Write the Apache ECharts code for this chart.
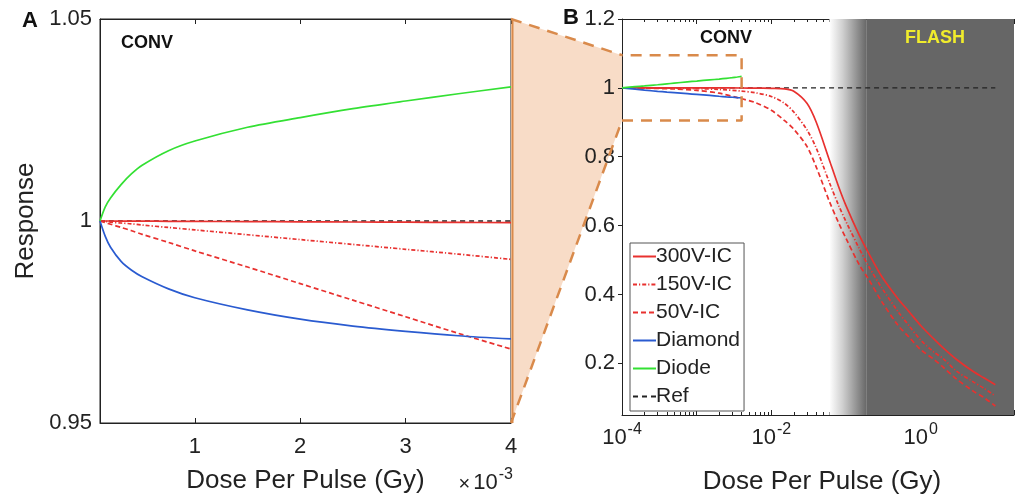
<!DOCTYPE html>
<html><head><meta charset="utf-8">
<script src="https://cdn.jsdelivr.net/npm/echarts@6/dist/echarts.min.js"></script>
<style>html,body{margin:0;padding:0;background:#fff}#c{width:1017px;height:500px}</style>
</head><body><div id="c"></div>
<script>
// ---------- Panel A (linear dose axis, CONV range) ----------
const doseA     = [0.0001, 0.00015, 0.0002, 0.0003, 0.0004, 0.0005, 0.00075, 0.001, 0.0015, 0.002, 0.0025, 0.003, 0.0035, 0.004];
const diodeA    = [1.000, 1.0035, 1.0057, 1.009, 1.0117, 1.0138, 1.0174, 1.0198, 1.0232, 1.0256, 1.0278, 1.0297, 1.0315, 1.0332];
const diamondA  = [1.000, 0.9962, 0.9935, 0.9900, 0.9878, 0.9862, 0.9832, 0.9810, 0.9780, 0.9757, 0.9740, 0.9727, 0.9716, 0.9708];
const ic300A    = [1.000, 1.000, 1.000, 0.99998, 0.99997, 0.99996, 0.99993, 0.9999, 0.99985, 0.9998, 0.99975, 0.9997, 0.99965, 0.9996];
const ic150A    = [1.000, 0.9999, 0.9997, 0.9995, 0.9993, 0.9990, 0.9984, 0.9978, 0.9966, 0.9954, 0.9942, 0.9930, 0.9918, 0.9905];
const ic50A     = [1.000, 0.9996, 0.9992, 0.9984, 0.9976, 0.9967, 0.9947, 0.9926, 0.9886, 0.9845, 0.9804, 0.9763, 0.9722, 0.9683];
const refDoseA  = [0.0001, 0.004];
const refA      = [1, 1];
const xTicksA   = [0.001, 0.002, 0.003, 0.004];
const yTicksA   = [0.95, 1, 1.05];

// ---------- Panel B (log dose axis, CONV -> FLASH) ----------
const doseB   = [0.0001, 0.0002, 0.0005, 0.001, 0.002, 0.004, 0.006, 0.01, 0.015, 0.02, 0.03, 0.04, 0.06, 0.08, 0.1, 0.15, 0.2, 0.3, 0.5, 0.7, 1, 1.5, 2, 3, 5, 7, 10];
const ic300B  = [1, 1, 1, 0.9999, 0.9998, 0.9996, 0.9993, 0.9985, 0.997, 0.99, 0.955, 0.90, 0.79, 0.712, 0.658, 0.573, 0.521, 0.453, 0.387, 0.350, 0.310, 0.271, 0.245, 0.212, 0.177, 0.158, 0.138];
const ic150B  = [1, 0.9997, 0.999, 0.9978, 0.9954, 0.9905, 0.986, 0.975, 0.955, 0.93, 0.878, 0.825, 0.725, 0.658, 0.612, 0.534, 0.483, 0.42, 0.35, 0.309, 0.268, 0.233, 0.214, 0.178, 0.147, 0.128, 0.105];
const ic50B   = [1, 0.9992, 0.9967, 0.9926, 0.9845, 0.9683, 0.958, 0.935, 0.905, 0.88, 0.83, 0.77, 0.67, 0.607, 0.563, 0.487, 0.445, 0.38, 0.31, 0.276, 0.24, 0.212, 0.189, 0.155, 0.12, 0.101, 0.076];
const refDoseB = [0.0001, 10];
const refB     = [1, 1];
const yTicksB  = [0.2, 0.4, 0.6, 0.8, 1, 1.2];
const zoomBoxDose = [0.0001, 0.004];
const zoomBoxResp = [0.905, 1.095];
const transitionDose = [0.06, 0.19];     // white -> grey fade
const visibleEndDose = 17.8;             // axis cut by the picture edge
const legendNames = ['300V-IC', '150V-IC', '50V-IC', 'Diamond', 'Diode', 'Ref'];

const FONT = "'Liberation Sans', Arial, Helvetica, sans-serif";
const RED = '#e8312f', BLUE = '#2a5bd0', GREEN = '#33e033';
const ORANGE = '#d98a4b', PEACH = '#f8dcc7';

const zip = (xs, ys) => xs.map((x, i) => [x, ys[i]]);

const chart = echarts.init(document.getElementById('c'), null, {renderer: 'canvas'});

function lineSeries(name, xs, ys, color, type, xi, yi, width) {
  return {
    name, type: 'line', data: zip(xs, ys), xAxisIndex: xi, yAxisIndex: yi,
    symbol: 'none', showSymbol: false, smooth: 0.3, animation: false,
    lineStyle: {color, width: width || 1.7, type: type || 'solid'},
    itemStyle: {color}, z: 3
  };
}
const DASH = [5, 3], DASHDOT = [4, 2, 1.2, 2], REFDASH = [5, 4];

const supRich = {
  b: {fontSize: 22, fontFamily: FONT, color: '#222', verticalAlign: 'bottom', lineHeight: 24},
  s: {fontSize: 16, fontFamily: FONT, color: '#222', verticalAlign: 'bottom', lineHeight: 16, padding: [0, 0, 11, 1]}
};

const option = {
  animation: false,
  backgroundColor: '#fff',
  textStyle: {fontFamily: FONT},
  grid: [
    {left: 100, top: 19, width: 411, height: 404, show: true, borderColor: '#222', borderWidth: 1, backgroundColor: 'transparent'},
    {left: 622, top: 19, width: 395, height: 401, show: false}
  ],
  xAxis: [
    {gridIndex: 0, type: 'value', min: 0.0001, max: 0.004,
     name: 'Dose Per Pulse (Gy)', nameLocation: 'middle', nameGap: 45,
     nameTextStyle: {fontSize: 26, color: '#222', fontFamily: FONT},
     axisLine: {lineStyle: {color: '#222', width: 1}},
     axisTick: {inside: true, length: 5, customValues: xTicksA, lineStyle: {color: '#222'}},
     axisLabel: {customValues: xTicksA, fontSize: 22, color: '#222', margin: 13, fontFamily: FONT,
                 formatter: v => String(Math.round(v * 1000))},
     splitLine: {show: false}},
    {gridIndex: 0, type: 'value', position: 'top', min: 0.0001, max: 0.004,
     axisLine: {lineStyle: {color: '#222'}},
     axisTick: {inside: true, length: 5, customValues: xTicksA, lineStyle: {color: '#222'}},
     axisLabel: {show: false}, splitLine: {show: false}},
    {gridIndex: 1, type: 'log', logBase: 10, min: 0.0001, max: visibleEndDose,
     name: 'Dose Per Pulse (Gy)', nameLocation: 'middle', nameGap: 54,
     nameTextStyle: {fontSize: 26, color: '#222', fontFamily: FONT, padding: [0, 0, 0, 8]},
     axisLine: {lineStyle: {color: '#222', width: 1}},
     axisTick: {inside: true, length: 5, lineStyle: {color: '#222'}},
     minorTick: {show: true, splitNumber: 9, length: 3, lineStyle: {color: '#222'}},
     axisLabel: {margin: 10, rich: supRich, formatter: v => {
       const e = Math.log10(v), r = Math.round(e);
       if (Math.abs(e - r) > 1e-6 || r % 2 !== 0) return '';
       return '{b|10}{s|' + r + '}';
     }},
     splitLine: {show: false}},
    {gridIndex: 1, type: 'log', logBase: 10, position: 'top', min: 0.0001, max: visibleEndDose,
     axisLine: {lineStyle: {color: '#222'}},
     axisTick: {inside: true, length: 5, lineStyle: {color: '#222'}},
     minorTick: {show: true, splitNumber: 9, length: 3, lineStyle: {color: '#222'}},
     axisLabel: {show: false}, splitLine: {show: false}}
  ],
  yAxis: [
    {gridIndex: 0, type: 'value', min: 0.95, max: 1.05, interval: 0.05,
     name: 'Response', nameLocation: 'middle', nameGap: 61,
     nameTextStyle: {fontSize: 26, color: '#222', fontFamily: FONT},
     axisLine: {show: true, lineStyle: {color: '#222'}},
     axisTick: {show: true, inside: true, length: 5, lineStyle: {color: '#222'}},
     axisLabel: {fontSize: 22, color: '#222', margin: 8, fontFamily: FONT,
                 formatter: v => String(parseFloat(v.toFixed(2)))},
     splitLine: {show: false}},
    {gridIndex: 1, type: 'value', min: 0.05, max: 1.2,
     axisLine: {show: true, lineStyle: {color: '#222'}},
     axisTick: {show: true, inside: false, length: 4, customValues: yTicksB, lineStyle: {color: '#222'}},
     axisLabel: {customValues: yTicksB, fontSize: 22, color: '#222', margin: 7, fontFamily: FONT,
                 formatter: v => String(parseFloat(v.toFixed(2)))},
     splitLine: {show: false}}
  ],
  legend: {
    data: legendNames, orient: 'vertical', left: 630, top: 243,
    itemWidth: 23, itemHeight: 12, itemGap: 7, padding: [3, 4, 4, 2],
    borderColor: '#555', borderWidth: 1, backgroundColor: '#fff',
    itemStyle: {opacity: 0},
    textStyle: {fontSize: 21, color: '#222', fontFamily: FONT, padding: [0, 0, 0, -5]},
    selectedMode: false, z: 20
  },
  series: [
    // Panel B: reference line carrying the CONV->FLASH shading
    Object.assign(lineSeries('Ref', refDoseB, refB, '#222', REFDASH, 2, 1, 1.4), {
      z: 2,
      markArea: {silent: true, z: 1, data: [
        [{xAxis: transitionDose[0], itemStyle: {color: new echarts.graphic.LinearGradient(0, 0, 1, 0, [
            {offset: 0, color: '#ffffff'}, {offset: 0.35, color: '#d0d0d0'}, {offset: 1, color: '#666666'}])}},
         {xAxis: transitionDose[1]}],
        [{xAxis: transitionDose[1], itemStyle: {color: '#666666'}}, {xAxis: visibleEndDose}]
      ]}
    }),
    lineSeries('300V-IC', doseB, ic300B, RED, 'solid', 2, 1),
    lineSeries('150V-IC', doseB, ic150B, RED, DASHDOT, 2, 1),
    lineSeries('50V-IC', doseB, ic50B, RED, DASH, 2, 1),
    lineSeries('Diamond', doseA, diamondA, BLUE, 'solid', 2, 1),
    lineSeries('Diode', doseA, diodeA, GREEN, 'solid', 2, 1),
    // zoom box in panel B
    {name: 'zoombox', type: 'line', xAxisIndex: 2, yAxisIndex: 1, symbol: 'none', z: 4,
     data: [[zoomBoxDose[0], zoomBoxResp[0]], [zoomBoxDose[1], zoomBoxResp[0]], [zoomBoxDose[1], zoomBoxResp[1]], [zoomBoxDose[0], zoomBoxResp[1]]],
     lineStyle: {color: ORANGE, width: 2.5, type: [11, 8]}},
    // Panel A
    lineSeries('Ref', refDoseA, refA, '#222', REFDASH, 0, 0, 1.4),
    lineSeries('300V-IC', doseA, ic300A, RED, 'solid', 0, 0),
    lineSeries('150V-IC', doseA, ic150A, RED, DASHDOT, 0, 0),
    lineSeries('50V-IC', doseA, ic50A, RED, DASH, 0, 0),
    lineSeries('Diamond', doseA, diamondA, BLUE, 'solid', 0, 0),
    lineSeries('Diode', doseA, diodeA, GREEN, 'solid', 0, 0)
  ]
};
chart.setOption(option);

// connection (zoom) wedge computed from the two axes' scales
const aTop = chart.convertToPixel({seriesIndex: 7}, [xTicksA[3], yTicksA[2]]);
const aBot = chart.convertToPixel({seriesIndex: 7}, [xTicksA[3], yTicksA[0]]);
const bTop = chart.convertToPixel({seriesIndex: 6}, [zoomBoxDose[0], zoomBoxResp[1]]);
const bBot = chart.convertToPixel({seriesIndex: 6}, [zoomBoxDose[0], zoomBoxResp[0]]);

const txt = (x, y, text, size, opts) => Object.assign({
  type: 'text', x, y, z: 50,
  style: Object.assign({text, fontSize: size, fontFamily: FONT, fill: '#111', align: 'center', verticalAlign: 'middle'}, opts || {})
});

chart.setOption({graphic: [
  {type: 'polygon', z: 0, shape: {points: [aTop, bTop, bBot, aBot]}, style: {fill: PEACH, stroke: null}},
  {type: 'line', z: 1, shape: {x1: aTop[0], y1: aTop[1], x2: bTop[0], y2: bTop[1]}, style: {stroke: ORANGE, lineWidth: 2.5, lineDash: [11, 8]}},
  {type: 'line', z: 1, shape: {x1: aBot[0], y1: aBot[1], x2: bBot[0], y2: bBot[1]}, style: {stroke: ORANGE, lineWidth: 2.5, lineDash: [11, 8]}},
  {type: 'line', z: 1, shape: {x1: aTop[0] + 1.5, y1: aTop[1], x2: aBot[0] + 1.5, y2: aBot[1]}, style: {stroke: ORANGE, lineWidth: 2}},
  txt(22, 21, 'A', 22, {fontWeight: 'bold', align: 'left'}),
  txt(563, 18, 'B', 22, {fontWeight: 'bold', align: 'left'}),
  txt(147, 43, 'CONV', 18, {fontWeight: 'bold'}),
  txt(726, 38, 'CONV', 18, {fontWeight: 'bold'}),
  txt(935, 38, 'FLASH', 18, {fontWeight: 'bold', fill: '#f0ec2c'}),
  {type: 'text', x: 513, y: 482, z: 50, style: {
    text: '{m|×}{b|10}{s|-3}', align: 'right', verticalAlign: 'middle',
    rich: {m: {fontSize: 20, fontFamily: FONT, fill: '#222', verticalAlign: 'bottom', lineHeight: 24, padding: [0, 3, 0, 0]},
           b: {fontSize: 22, fontFamily: FONT, fill: '#222', verticalAlign: 'bottom', lineHeight: 24},
           s: {fontSize: 16, fontFamily: FONT, fill: '#222', verticalAlign: 'bottom', lineHeight: 16, padding: [0, 0, 11, 1]}}
  }}
]});
</script></body></html>
